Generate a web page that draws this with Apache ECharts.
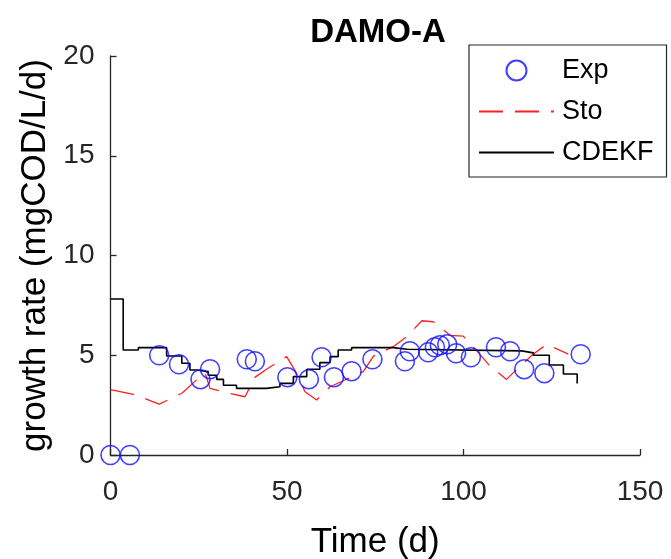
<!DOCTYPE html>
<html>
<head>
<meta charset="utf-8">
<script src="https://cdn.jsdelivr.net/npm/echarts@6/dist/echarts.min.js"></script>
<style>
html,body{margin:0;padding:0;background:#fff;}
#chart{width:671px;height:559px;}
</style>
</head>
<body>
<div id="chart"></div>
<script>
// ---- data ----
var titleText = 'DAMO-A';
var xTicks = [0, 50, 100, 150];
var yTicks = [0, 5, 10, 15, 20];

var expT = [0, 5.5, 13.8, 19.4, 25.5, 28.2, 38.6, 40.9, 50.1, 56.2, 59.8, 63.3, 68.3, 74.2, 83.4, 84.8, 90.0, 91.9, 93.3, 95.4, 97.9, 102.1, 109.2, 113.2, 117.2, 122.9, 133.2];
var expV = [0, 0, 5.0, 4.55, 3.8, 4.3, 4.8, 4.7, 3.9, 3.8, 4.9, 3.9, 4.2, 4.8, 4.7, 5.2, 5.15, 5.4, 5.5, 5.55, 5.1, 4.9, 5.4, 5.2, 4.3, 4.1, 5.05];

var stoT = [0, 6.5, 10.3, 13.8, 16.9, 20.4, 25.4, 26.8, 28.2, 33.7, 38.1, 40.9, 44.2, 49.9, 52.7, 55.1, 58.4, 62.2, 66.4, 71.6, 74.5, 80.1, 83.9, 88.2, 91.4, 96.2, 99.9, 104.2, 107.5, 112.2, 115.1, 119.8, 123.6, 129.7];
var stoV = [3.28, 3.04, 2.79, 2.55, 2.81, 3.12, 3.93, 4.1, 3.34, 3.09, 2.92, 3.89, 4.3, 4.93, 4.1, 3.17, 2.76, 3.42, 3.76, 4.18, 4.96, 5.43, 5.93, 6.73, 6.68, 6.0, 5.96, 5.13, 4.46, 3.79, 4.3, 5.06, 5.55, 5.06];

var cdekfT = [0, 3.6, 7.9, 15.9, 20.2, 22.5, 24.4, 27.7, 30.1, 32.0, 35.7, 44.2, 48.0, 51.8, 55.6, 59.3, 62.2, 64.5, 68.3, 80.1, 84.0, 116.5, 119.8, 124.3, 128.3, 132.2];
var cdekfV = [7.82, 5.26, 5.38, 4.96, 4.6, 4.26, 4.18, 4.0, 3.79, 3.5, 3.34, 3.42, 3.59, 3.93, 4.3, 4.63, 4.93, 5.26, 5.38, 5.3, 5.22, 5.12, 5.0, 4.51, 4.06, 3.59];

function pairs(t, v) { return t.map(function (x, i) { return [x, v[i]]; }); }

var axisColor = '#262626';
var chart = echarts.init(document.getElementById('chart'), null, {renderer: 'canvas'});
chart.setOption({
  animation: false,
  backgroundColor: '#ffffff',
  title: {
    text: titleText,
    left: 373, top: 11,
    textAlign: 'center',
    textStyle: {fontFamily: 'Liberation Sans', fontWeight: 'bold', fontSize: 33, color: '#000'}
  },
  grid: {left: 110.5, right: 31, top: 56, bottom: 104, containLabel: false, outerBoundsMode: 'none'},
  legend: {
    orient: 'vertical',
    left: 469, top: 45,
    padding: [12, 13, 11, 9],
    itemWidth: 75, itemHeight: 20, itemGap: 14,
    borderColor: axisColor, borderWidth: 1.2, backgroundColor: '#fff',
    textStyle: {fontFamily: 'Liberation Sans', fontSize: 27, color: '#000', padding: [0, 0, 0, 3]},
    data: [
      {name: 'Exp'},
      {name: 'Sto', itemStyle: {opacity: 0}},
      {name: 'CDEKF', itemStyle: {opacity: 0}}
    ]
  },
  xAxis: {
    type: 'value', min: 0, max: 150, interval: 50,
    name: 'Time (d)', nameLocation: 'middle', nameGap: 70,
    nameTextStyle: {fontFamily: 'Liberation Sans', fontSize: 35, color: '#000'},
    axisLine: {lineStyle: {color: axisColor, width: 1.3}},
    axisTick: {inside: true, length: 6, lineStyle: {color: axisColor, width: 1.3}},
    axisLabel: {fontFamily: 'Liberation Sans', fontSize: 28, color: axisColor, margin: 23,
      formatter: function (v) { return xTicks.indexOf(v) >= 0 ? String(v) : ''; }},
    splitLine: {show: false}
  },
  yAxis: {
    type: 'value', min: 0, max: 20, interval: 5,
    name: 'growth rate (mgCOD/L/d)', nameLocation: 'middle', nameGap: 58,
    nameTextStyle: {fontFamily: 'Liberation Sans', fontSize: 35, color: '#000'},
    axisLine: {show: true, lineStyle: {color: axisColor, width: 1.3}},
    axisTick: {show: true, inside: true, length: 6, lineStyle: {color: axisColor, width: 1.3}},
    axisLabel: {fontFamily: 'Liberation Sans', fontSize: 28, color: axisColor, margin: 16,
      formatter: function (v) { return yTicks.indexOf(v) >= 0 ? String(v) : ''; }},
    splitLine: {show: false}
  },
  series: [
    {
      name: 'Exp', type: 'scatter', symbol: 'circle', symbolSize: 19,
      itemStyle: {color: 'rgba(0,0,0,0)', borderColor: '#1010ff', borderWidth: 1.6},
      data: pairs(expT, expV), z: 3
    },
    {
      name: 'Sto', type: 'line', symbol: 'none', smooth: false,
      lineStyle: {color: '#ff2020', width: 1.3, type: [24, 12]},
      itemStyle: {color: '#ff2020'},
      data: pairs(stoT, stoV), z: 2
    },
    {
      name: 'CDEKF', type: 'line', symbol: 'none', step: 'end',
      lineStyle: {color: '#000', width: 1.6},
      itemStyle: {color: '#000'},
      data: pairs(cdekfT, cdekfV), z: 2
    }
  ]
});
</script>
</body>
</html>
